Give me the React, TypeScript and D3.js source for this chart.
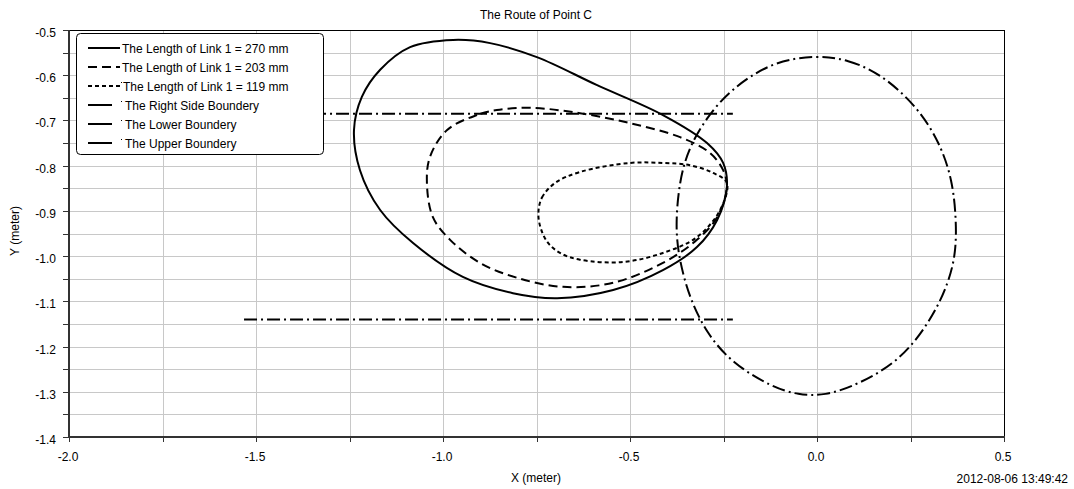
import React from "react";
import * as d3 from "d3";

// ---- data ----
const chartTitle = "The Route of Point C";
const xAxisTitle = "X (meter)";
const yAxisTitle = "Y (meter)";
const timestamp = "2012-08-06 13:49:42";

const xLabelTicks = [-2.0, -1.5, -1.0, -0.5, 0.0, 0.5];
const xGridTicks = [-2.0, -1.75, -1.5, -1.25, -1.0, -0.75, -0.5, -0.25, 0.0, 0.25, 0.5];
const yLabelTicks = [-0.5, -0.6, -0.7, -0.8, -0.9, -1.0, -1.1, -1.2, -1.3, -1.4];
const yGridTicks = [
  -0.5, -0.55, -0.6, -0.65, -0.7, -0.75, -0.8, -0.85, -0.9, -0.95, -1.0,
  -1.05, -1.1, -1.15, -1.2, -1.25, -1.3, -1.35, -1.4,
];

const link270: [number, number][] = [
  [-0.973, -0.522], [-1.088, -0.538], [-1.168, -0.588], [-1.217, -0.648],
  [-1.238, -0.721], [-1.222, -0.81], [-1.168, -0.898], [-1.08, -0.971],
  [-0.947, -1.046], [-0.813, -1.082], [-0.695, -1.093], [-0.545, -1.075],
  [-0.412, -1.031], [-0.321, -0.98], [-0.267, -0.92], [-0.241, -0.847],
  [-0.251, -0.794], [-0.294, -0.75], [-0.412, -0.688], [-0.588, -0.622],
  [-0.749, -0.56], [-0.874, -0.529],
];

const link203: [number, number][] = [
  [-0.856, -0.677], [-0.909, -0.688], [-0.989, -0.721], [-1.035, -0.781],
  [-1.043, -0.838], [-1.027, -0.914], [-0.981, -0.964], [-0.901, -1.015],
  [-0.802, -1.048], [-0.679, -1.068], [-0.545, -1.059], [-0.412, -1.015],
  [-0.321, -0.964], [-0.267, -0.914], [-0.241, -0.847], [-0.251, -0.81],
  [-0.286, -0.772], [-0.366, -0.737], [-0.5, -0.706], [-0.634, -0.684],
  [-0.767, -0.672],
];

const link119: [number, number][] = [
  [-0.745, -0.905], [-0.735, -0.87], [-0.7, -0.838], [-0.634, -0.814],
  [-0.5, -0.794], [-0.412, -0.794], [-0.34, -0.799], [-0.278, -0.816],
  [-0.241, -0.838], [-0.259, -0.898], [-0.321, -0.958], [-0.412, -0.993],
  [-0.519, -1.013], [-0.634, -1.008], [-0.685, -0.994], [-0.718, -0.972],
  [-0.738, -0.94],
];

const rightBoundary: [number, number][] = [
  [0.0, -0.556], [0.08, -0.565], [0.168, -0.595], [0.267, -0.668],
  [0.329, -0.75], [0.362, -0.832], [0.372, -0.915], [0.372, -0.99],
  [0.352, -1.06], [0.304, -1.143], [0.222, -1.232], [0.107, -1.285],
  [0.02, -1.309], [-0.05, -1.307], [-0.12, -1.29], [-0.227, -1.237],
  [-0.296, -1.17], [-0.342, -1.09], [-0.368, -1.009], [-0.379, -0.936],
  [-0.368, -0.832], [-0.342, -0.759], [-0.296, -0.695], [-0.235, -0.634],
  [-0.12, -0.569],
];

const lowerBoundary: [number, number][] = [[-1.532, -1.14], [-0.225, -1.14]];
const upperBoundary: [number, number][] = [[-1.532, -0.685], [-0.225, -0.685]];

const legendLabels = [
  "The Length of Link 1 = 270 mm",
  "The Length of Link 1 = 203 mm",
  "The Length of Link 1 = 119 mm",
  "The Right Side Boundery",
  "The Lower Boundery",
  "The Upper Boundery",
];

// ---- layout ----
const W = 1074;
const H = 489;
const L = 69, R = 1004, T = 30, B = 437;
const FONT = "'Liberation Sans', Arial, sans-serif";

const DASH_SOLID = "none";
const DASH_203 = "9,5";
const DASH_119 = "4,3";
const DASH_DOT = "13,4,2,4";

export default function App() {
  const x = d3.scaleLinear().domain([-2, 0.5]).range([L, R]);
  const y = d3.scaleLinear().domain([-0.5, -1.4]).range([T, B]);

  const closed = d3
    .line<[number, number]>()
    .x((d) => x(d[0]))
    .y((d) => y(d[1]))
    .curve(d3.curveCatmullRomClosed.alpha(0.5));
  const smoothClosed = d3
    .line<[number, number]>()
    .x((d) => x(d[0]))
    .y((d) => y(d[1]))
    .curve(d3.curveBasisClosed);
  const straight = d3
    .line<[number, number]>()
    .x((d) => x(d[0]))
    .y((d) => y(d[1]));

  const fmt = (v: number) => v.toFixed(1);

  const legendStyles = [
    { dash: DASH_SOLID, x2: 120 },
    { dash: DASH_203, x2: 120 },
    { dash: DASH_119, x2: 120 },
    { dash: DASH_SOLID, x2: 112 },
    { dash: DASH_SOLID, x2: 112 },
    { dash: DASH_SOLID, x2: 112 },
  ];

  return (
    <svg
      width={W}
      height={H}
      style={{ position: "absolute", left: 0, top: 0, background: "#fff" }}
      fontFamily={FONT}
    >
      <rect x={0} y={0} width={W} height={H} fill="#fff" />
      <text x={536} y={19} fontSize={12} textAnchor="middle" fill="#000">
        {chartTitle}
      </text>

      {/* grid */}
      <g stroke="#c8c8c8" strokeWidth={1}>
        {yGridTicks.map((t) => (
          <line key={"gy" + t} x1={L} x2={R} y1={Math.round(y(t)) + 0.5} y2={Math.round(y(t)) + 0.5} />
        ))}
        {xGridTicks.map((t) => (
          <line key={"gx" + t} x1={Math.round(x(t)) + 0.5} x2={Math.round(x(t)) + 0.5} y1={T} y2={B} />
        ))}
      </g>

      {/* frame */}
      <line x1={L} x2={R + 0.5} y1={T + 0.5} y2={T + 0.5} stroke="#000" strokeWidth={1} />
      <line x1={R + 0.5} x2={R + 0.5} y1={T} y2={B} stroke="#000" strokeWidth={1} />
      <line x1={L} x2={L} y1={T} y2={B + 1} stroke="#333" strokeWidth={2} />
      <line x1={L - 1} x2={R + 1} y1={B} y2={B} stroke="#333" strokeWidth={2} />

      {/* ticks */}
      <g stroke="#333" strokeWidth={1}>
        {yGridTicks.map((t) => (
          <line key={"ty" + t} x1={L - 6} x2={L} y1={Math.round(y(t)) + 0.5} y2={Math.round(y(t)) + 0.5} />
        ))}
        {xGridTicks.map((t) => (
          <line key={"tx" + t} x1={Math.round(x(t)) + 0.5} x2={Math.round(x(t)) + 0.5} y1={B} y2={B + 5} />
        ))}
      </g>
      <g fontSize={12} fill="#000">
        {yLabelTicks.map((t) => (
          <text key={"ly" + t} x={56} y={y(t) + 7} textAnchor="end">
            {fmt(t)}
          </text>
        ))}
        {xLabelTicks.map((t) => (
          <text key={"lx" + t} x={x(t) - 1} y={461} textAnchor="middle">
            {fmt(t)}
          </text>
        ))}
      </g>
      <text x={536} y={482} fontSize={12} textAnchor="middle">
        {xAxisTitle}
      </text>
      <text
        x={0}
        y={0}
        fontSize={12}
        textAnchor="middle"
        transform={`translate(19,231) rotate(-90)`}
      >
        {yAxisTitle}
      </text>
      <text x={1068} y={483} fontSize={12} textAnchor="end">
        {timestamp}
      </text>

      {/* series */}
      <g fill="none" stroke="#000" strokeWidth={2}>
        <path d={straight(lowerBoundary) || ""} strokeDasharray={DASH_DOT} />
        <path d={straight(upperBoundary) || ""} strokeDasharray={DASH_DOT} />
        <path d={smoothClosed(rightBoundary) || ""} strokeDasharray={DASH_DOT} />
        <path d={closed(link119) || ""} strokeDasharray={DASH_119} />
        <path d={closed(link203) || ""} strokeDasharray={DASH_203} />
        <path d={closed(link270) || ""} />
      </g>

      {/* legend */}
      <rect x={76.5} y={33.5} width={247} height={121} rx={4} fill="#fff" stroke="#000" strokeWidth={1} />
      {legendLabels.map((lab, i) => {
        const ry = 48 + i * 19;
        const st = legendStyles[i];
        return (
          <g key={lab}>
            <line
              x1={88}
              x2={st.x2}
              y1={ry}
              y2={ry}
              stroke="#000"
              strokeWidth={2}
              strokeDasharray={st.dash}
            />
            {i >= 2 && <rect x={121} y={ry - 4} width={1} height={1} fill="#000" />}
            <text x={i < 2 ? 122 : i === 2 ? 123 : 125} y={ry + 4.5} fontSize={12}>
              {lab}
            </text>
          </g>
        );
      })}
    </svg>
  );
}
